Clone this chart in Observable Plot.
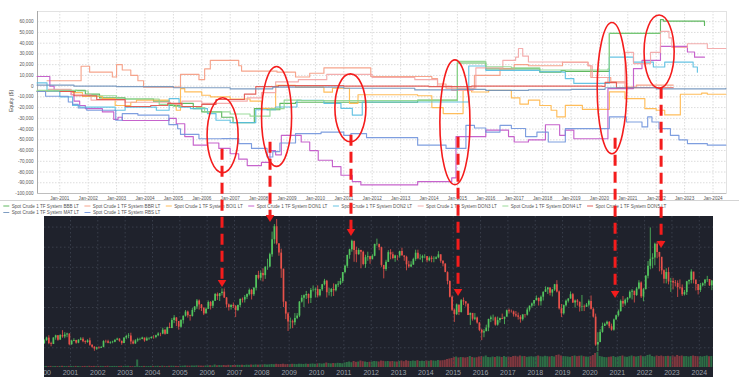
<!DOCTYPE html>
<html><head><meta charset="utf-8">
<script src="https://cdn.jsdelivr.net/npm/d3@7"></script>
<script src="https://cdn.jsdelivr.net/npm/@observablehq/plot@0.6"></script>
<style>
html,body{margin:0;padding:0;background:#fff;}
#wrap{position:relative;width:739px;height:387px;overflow:hidden;font-family:"Liberation Sans",Arial,sans-serif;}
#wrap svg{position:absolute;}
#dark{position:absolute;left:44px;top:216px;width:669px;height:161px;background:#1f222c;}
</style></head><body><div id="wrap"><div id="dark"></div></div>
<script>
// ---------- Top chart: equity curves (values in thousands of $) ----------
const seriesNames = ["Spot Crude 1 TF System BBB LT","Spot Crude 1 TF System BBR LT","Spot Crude 1 TF System BOI1 LT","Spot Crude 1 TF System DON1 LT","Spot Crude 1 TF System DON2 LT","Spot Crude 1 TF System DON3 LT","Spot Crude 1 TF System DON4 LT","Spot Crude 1 TF System DON5 LT","Spot Crude 1 TF System MAT LT","Spot Crude 1 TF System RBS LT"];
const seriesColors = ["#4fb04f","#f59a80","#ffb648","#c052c6","#55bde0","#f3a5a5","#8fd68f","#e0514a","#6f92bb","#7094dc"];
const bbb = [[2000.2,-5],[2001.55,-4],[2001.9,-7.5],[2002.4,-11],[2003.3,-12],[2004.3,-14],[2004.85,-18],[2005.25,-16],[2005.7,-21],[2006.0,-24],[2006.7,-29],[2007.1,-34],[2007.85,-21],[2008.3,-22],[2008.75,-16],[2009.3,-15],[2013.6,-13],[2015.0,21.5],[2016.0,16],[2017.9,13],[2018.65,14.5],[2018.8,13.8],[2020.35,49],[2022.15,62],[2022.25,60.5],[2023.7,56.5]];
const bbr = [[2000.55,5],[2001.55,5],[2001.75,18.5],[2002.05,13],[2002.85,8.5],[2003.0,20],[2003.2,15],[2003.5,10],[2003.75,5],[2003.95,-1],[2005.25,11],[2005.9,6],[2006.1,16],[2006.3,24],[2007.3,19],[2007.4,14],[2008.65,13],[2009.3,8.5],[2009.8,12],[2010.3,17],[2011.95,9],[2014.1,7],[2014.3,2],[2014.6,-2],[2015.6,10],[2016.5,16],[2017.0,20],[2017.5,19],[2018.7,22.5],[2019.6,19],[2019.7,8],[2020.4,4],[2020.9,-1],[2021.3,1],[2022.6,1]];
const boi1 = [[2000.2,-5],[2001.45,-6],[2001.8,-9.5],[2002.5,-11.5],[2002.95,-18],[2003.5,-15],[2003.7,-13],[2004.85,-17],[2005.1,-22.5],[2005.25,-2.3],[2005.4,-5.4],[2006.0,-8.5],[2006.3,-10],[2007.0,-12],[2007.7,-14],[2008.1,-20.7],[2008.6,0.7],[2009.3,-1],[2010.3,-5.6],[2010.6,-2],[2011.2,-16],[2011.5,-8],[2013.6,-9],[2014.1,-20],[2014.5,-25.6],[2015.2,-4],[2015.5,-5.5],[2016.1,-4],[2016.9,-11],[2017.2,-16.7],[2017.5,-13],[2017.9,-18],[2018.3,-22.5],[2018.5,-28.7],[2018.8,-17.9],[2019.4,-21.6],[2020.35,-5.4],[2020.9,-11.7],[2021.6,-21],[2022.0,-22.5],[2022.3,-26.8],[2022.85,-7.6],[2023.6,-6.5],[2023.8,-7.6],[2024.45,-7.6]];
const don1 = [[2000.2,9],[2000.65,0],[2000.8,-4],[2001.4,-8],[2001.5,-14],[2001.7,-18],[2001.9,-21],[2002.5,-24],[2002.9,-31],[2003.05,-29],[2003.2,-32],[2004.4,-32],[2004.85,-30],[2005.1,-35],[2005.4,-47],[2005.7,-55],[2006.2,-53],[2006.6,-58],[2007.0,-63],[2007.3,-68],[2007.6,-74],[2008.1,-71],[2008.4,-60],[2008.6,-64],[2008.8,-45.8],[2009.5,-52],[2009.8,-60],[2010.1,-69],[2010.6,-75],[2010.9,-83],[2011.3,-89],[2011.6,-92],[2013.6,-89],[2014.8,-85.5],[2014.95,-47],[2016.0,-41],[2016.8,-47],[2017.0,-52],[2017.5,-50],[2018.1,-36],[2018.6,-45.8],[2018.8,-41],[2019.1,-49],[2020.3,-2.3],[2021.2,16.3],[2021.5,24],[2022.15,37],[2023.1,31.8],[2023.35,27],[2023.7,27]];
const don2 = [[2000.2,3],[2000.55,-4.6],[2001.0,-10],[2001.45,-18],[2001.7,-19.5],[2002.95,-22.5],[2003.3,-19.5],[2004.4,-22.5],[2004.85,-11.7],[2005.2,-19.5],[2005.6,-21],[2006.2,-25.6],[2006.5,-31.8],[2007.0,-34],[2007.9,-22],[2008.6,-19.4],[2009.35,-13.2],[2010.3,-16],[2010.9,-20.7],[2011.3,-27],[2011.65,-14.8],[2015.4,18.7],[2016.0,14.7],[2017.9,13.4],[2018.7,13.1],[2018.8,7],[2019.1,2.5],[2020.35,27],[2021.2,22.4],[2021.9,17.8],[2022.3,22.4],[2023.3,17.8],[2023.45,13]];
const don3 = [[2000.6,-3],[2001.4,-8],[2002.1,-13],[2003.3,-15],[2004.9,-17],[2005.3,-14],[2006.0,-16],[2007.0,-14],[2007.6,-11],[2008.1,-6],[2008.6,4],[2009.4,6],[2010.4,11],[2012.0,8],[2013.5,6],[2014.3,0],[2014.8,-4],[2015.55,-2],[2015.65,17],[2016.6,24],[2017.05,27],[2017.15,35],[2017.3,28],[2017.5,22.5],[2018.7,22],[2019.6,19],[2019.75,8],[2020.3,3],[2020.9,31.5],[2021.2,21],[2021.8,31.5],[2022.15,51],[2022.45,45],[2022.55,36],[2023.1,39.5],[2023.8,35],[2024.45,35]];
const don4 = [[2000.2,-4],[2001.6,-4.5],[2002.0,-9],[2003.0,-12],[2004.5,-17],[2005.0,-19],[2005.8,-20],[2006.1,-24],[2007.0,-26],[2007.7,-28],[2008.4,-21],[2008.9,-13],[2009.5,-13.5],[2014.97,-13],[2015.0,23],[2016.0,18],[2016.9,17],[2017.9,15],[2018.7,15],[2020.3,16],[2020.35,49.5],[2022.15,49.5]];
const don5 = [[2001.0,-5],[2001.5,-9],[2002.3,-12.5],[2003.3,-19],[2004.2,-18],[2004.8,-16],[2005.3,-19],[2006.0,-17],[2006.5,-12.5],[2007.5,-7.5],[2007.9,-0.5],[2008.7,0.5],[2011.0,0],[2014.0,-0.5],[2015.5,0],[2020.1,-0.2],[2020.2,3.5],[2020.6,-1.5],[2022.6,-1.5]];
const mat = [[2000.2,1],[2001.5,0],[2003.0,-0.5],[2005.0,-1.5],[2007.0,-2.5],[2008.5,-1],[2011.0,-2],[2013.5,-3.5],[2015.0,-3],[2016.0,-4],[2017.5,-3.5],[2019.0,-3],[2020.2,-1.5],[2022.0,-2.5],[2024.45,-2]];
const rbs = [[2000.2,-5],[2000.5,-9.4],[2001.3,-14.8],[2001.45,-17],[2001.65,-20.4],[2001.95,-22.5],[2002.97,-31.8],[2003.2,-25.6],[2003.75,-27],[2004.84,-35.9],[2005.15,-39.7],[2005.25,-45],[2005.9,-49],[2006.7,-48.9],[2007.3,-53.5],[2007.75,-58],[2008.3,-66],[2008.5,-61],[2008.75,-53],[2009.3,-44.2],[2010.2,-42.8],[2011.0,-45.8],[2011.25,-44.2],[2011.8,-48],[2013.6,-55],[2014.6,-58],[2015.3,-36.5],[2015.6,-39],[2016.0,-42.8],[2016.5,-36.5],[2016.9,-39.5],[2017.4,-47],[2017.8,-42.8],[2018.2,-52],[2018.8,-39.6],[2020.35,-28.7],[2020.95,-33.4],[2021.5,-38],[2021.7,-28.7],[2021.85,-33.4],[2022.1,-39.6],[2022.5,-45.8],[2022.8,-50],[2023.1,-53.5],[2023.8,-55],[2024.45,-55]];
const seriesSteps = [bbb,bbr,boi1,don1,don2,don3,don4,don5,mat,rbs];
const topTickYears = [2001,2002,2003,2004,2005,2006,2007,2008,2009,2010,2011,2012,2013,2014,2015,2016,2017,2018,2019,2020,2021,2022,2023,2024];
const topTickK = [-100,-90,-80,-70,-60,-50,-40,-30,-20,-10,0,10,20,30,40,50,60];

// ---------- Annotations ----------
const ellYear = [2006.75,2008.65,2011.25,2014.93,2020.46,2022.12];
const ellK = [-46.2,-28.7,-20.7,-34.1,-2.3,31.7];
const ellRYear = [0.546,0.53,0.546,0.53,0.52,0.53];
const ellRK = [34.9,46.5,31.6,58.1,61.1,34.1];
const arrowYear = [2006.73,2008.42,2011.27,2015.04,2020.57,2022.19];
const arrowFromK = [-58.8,-52.3,-45.8,-47.6,-48.6,-2];
const arrowToPrice = [80,144.5,130.6,71,69,118.7];

// ---------- Bottom chart: monthly Brent candles ----------
const priceYears = [2000,2001,2002,2003,2004,2005,2006,2007,2008,2009,2010,2011,2012,2013,2014,2015,2016,2017,2018,2019,2020,2021,2022,2023,2024];
const priceGrid = [20,40,60,80,100,120,140];
const firstOpen = 24.0;
const closes = [
[27.1,29.6,24.1,23.3,29.7,31.9,27.6,32.2,30.8,32.7,33.6,23.0],
[26.6,27.2,24.6,27.5,28.6,26.1,25.2,26.9,22.5,20.6,18.7,20.0],
[19.5,20.4,26.2,26.0,24.5,25.2,25.6,27.6,28.6,26.5,24.3,29.7],
[31.2,31.7,25.8,23.8,26.9,28.1,28.3,29.7,26.8,28.9,29.2,30.2],
[30.1,32.0,33.7,33.6,37.5,33.4,40.0,39.2,47.0,49.6,46.1,40.5],
[47.0,51.4,55.5,51.8,51.1,57.1,60.5,66.5,62.6,59.0,53.6,58.2],
[65.0,61.2,66.3,72.9,70.9,73.9,75.3,69.5,62.6,60.0,62.2,60.9],
[57.1,62.0,68.1,67.5,70.2,72.9,77.1,72.7,79.2,91.9,89.1,93.9],
[91.7,100.1,100.3,112.6,127.4,140.3,123.3,114.1,98.2,65.3,53.5,45.6],
[45.9,44.8,49.2,51.5,65.4,69.3,71.7,73.0,69.1,77.0,77.3,77.9],
[71.6,77.6,82.7,86.2,74.7,75.0,78.0,76.7,82.3,83.2,85.9,94.8],
[101.0,111.8,117.4,125.9,116.7,112.5,116.7,114.9,102.8,109.6,110.5,107.4],
[111.0,122.7,122.9,119.5,101.9,97.8,104.9,114.6,112.4,108.7,111.2,111.1],
[115.6,111.4,110.0,102.4,100.4,102.2,107.7,114.0,108.4,108.8,110.8,110.8],
[106.4,109.1,107.8,108.1,109.4,112.4,106.0,103.2,94.7,85.9,70.2,57.3],
[52.9,62.6,55.1,66.8,65.6,63.6,52.2,54.2,48.4,49.6,44.6,37.3],
[34.7,35.9,39.6,48.1,49.7,49.7,42.5,47.0,49.1,48.3,50.5,56.8],
[55.7,55.6,52.8,51.7,50.3,47.9,52.7,52.4,57.5,61.4,63.6,66.9],
[69.1,65.8,70.3,75.2,77.6,79.4,74.3,77.4,82.7,75.5,58.7,53.8],
[61.9,66.3,68.4,72.8,64.5,66.6,65.2,60.4,60.8,60.2,62.4,66.0],
[58.2,50.5,22.7,25.3,35.3,41.2,43.3,45.3,40.9,37.5,47.6,51.8],
[55.9,66.1,63.5,67.3,69.3,75.1,76.3,72.0,78.5,84.4,70.6,77.8],
[91.2,101.0,107.9,109.3,122.8,114.8,110.0,96.5,88.0,94.8,85.4,85.9],
[84.5,83.9,79.8,79.5,72.7,74.9,85.6,86.9,95.3,87.4,82.8,77.0],
[81.7,83.6,87.5,87.9,81.6,86.4]];
const highs = [
[28.0,30.5,32.0,25.5,30.0,32.5,32.0,33.0,37.0,35.0,34.5,34.0],
[27.5,29.0,27.5,28.0,30.0,30.0,27.0,28.0,29.5,23.0,21.0,20.5],
[21.0,21.0,27.0,27.5,27.5,26.0,26.5,27.8,29.5,29.0,26.5,29.8],
[32.5,34.0,34.5,27.5,28.0,29.5,29.5,30.5,29.5,30.5,30.0,31.0],
[32.0,32.5,35.0,34.5,39.5,38.0,40.5,44.5,49.0,52.0,50.0,43.0],
[48.0,51.5,57.0,56.5,52.5,59.0,61.0,68.0,67.5,63.0,60.0,59.5],
[66.5,66.0,66.5,74.0,74.5,71.5,78.5,78.5,70.0,63.5,62.5,64.5],
[62.0,62.5,68.5,69.5,72.0,73.5,78.5,78.0,80.0,92.0,96.0,96.5],
[98.5,100.5,108.0,114.0,135.0,142.5,147.5,123.0,118.0,98.0,66.0,55.0],
[49.5,47.5,54.0,54.0,66.0,72.0,72.5,76.0,73.5,79.0,81.5,79.5],
[81.5,78.0,83.0,88.0,87.0,79.0,79.0,83.5,83.0,86.0,89.0,94.8],
[102.0,112.0,118.0,127.0,124.0,120.0,118.5,117.0,116.0,112.0,115.0,111.0],
[112.5,123.0,128.0,121.5,120.0,100.0,107.0,116.5,117.5,115.0,112.0,111.5],
[116.0,119.0,111.0,111.0,106.0,105.5,109.0,117.0,117.0,112.5,112.0,112.5],
[109.5,110.5,111.0,110.5,110.5,115.5,112.5,106.5,103.5,95.5,86.5,71.5],
[58.5,63.5,62.0,68.0,69.5,66.0,63.0,54.5,52.0,54.0,50.5,45.0],
[38.5,38.0,42.5,48.5,51.5,52.5,50.5,50.5,49.5,53.5,49.5,57.5],
[58.5,57.5,56.5,56.0,54.5,52.0,52.8,53.0,59.5,61.5,64.5,67.0],
[71.5,69.5,71.5,75.5,80.5,80.0,79.5,78.0,83.0,86.7,76.5,63.0],
[62.5,67.5,69.0,75.5,74.0,67.5,68.0,65.5,72.0,62.5,64.0,67.5],
[71.5,59.5,53.5,35.0,38.0,44.5,44.5,46.5,46.0,43.5,48.5,52.5],
[57.5,67.5,71.0,68.5,70.0,76.5,77.8,73.0,80.0,86.7,85.5,79.0],
[91.7,105.8,139.1,113.5,124.0,125.2,114.8,105.5,97.5,98.5,99.5,89.0],
[89.0,86.9,86.5,87.5,82.5,77.0,86.0,87.5,97.5,93.5,84.5,79.5],
[84.0,84.5,87.5,91.0,84.5,87.0]];
const lows = [
[23.5,26.5,23.0,21.0,23.5,27.5,26.5,27.5,29.5,29.0,30.0,22.0],
[22.5,26.0,23.5,24.0,27.0,25.0,23.5,24.5,21.5,19.5,16.5,17.5],
[18.5,19.5,20.0,24.5,24.0,23.5,24.0,25.0,27.0,25.5,22.5,24.0],
[28.0,29.0,23.0,23.0,23.5,25.5,27.0,28.0,25.5,26.5,27.5,28.5],
[28.5,29.0,31.0,31.0,33.0,32.5,33.5,39.0,39.0,44.0,41.0,37.5],
[39.5,43.5,50.5,49.5,46.5,50.5,55.0,58.0,57.5,56.0,52.0,54.0],
[58.5,57.5,59.0,66.0,67.0,66.0,71.5,69.0,59.5,56.5,57.5,59.0],
[50.0,56.0,60.0,64.5,64.5,68.0,71.5,67.5,71.0,76.5,87.5,86.5],
[85.5,88.0,97.0,99.5,110.0,123.0,122.0,111.0,89.0,60.0,48.0,36.2],
[38.5,39.0,42.0,48.0,50.0,64.5,60.0,68.0,63.5,64.0,75.5,69.5],
[69.5,70.5,76.0,81.5,69.5,71.5,70.5,71.0,75.5,80.0,82.0,84.0],
[93.5,99.0,108.0,115.0,105.0,104.5,112.0,98.5,101.5,99.0,106.0,103.0],
[108.5,110.5,121.0,116.5,100.0,88.5,96.0,105.0,107.5,107.5,105.0,106.5],
[109.0,111.0,106.0,96.5,99.0,99.5,102.0,106.0,107.5,107.0,104.5,108.5],
[104.5,105.5,104.5,104.5,107.5,108.5,104.0,100.5,95.5,82.5,69.5,56.0],
[45.2,52.0,52.0,54.5,62.0,60.5,52.0,42.2,46.5,47.0,43.5,36.0],
[27.1,30.0,36.5,36.0,45.0,46.5,41.5,41.5,44.5,48.0,43.0,50.5],
[53.5,54.5,50.5,50.0,47.5,44.5,46.5,49.5,51.5,55.5,59.5,61.0],
[66.5,61.5,61.5,66.5,75.0,73.0,71.5,70.5,76.0,74.5,57.5,50.0],
[52.5,60.5,64.5,68.5,64.0,59.5,61.5,55.5,56.0,56.0,60.5,60.5],
[57.5,49.5,21.5,16.0,25.0,34.5,41.5,42.0,39.0,36.5,36.5,47.5],
[50.5,55.5,60.0,61.5,64.5,68.5,67.5,64.5,71.0,77.5,69.0,65.7],
[77.5,88.5,97.5,98.5,101.5,108.5,95.5,92.5,83.5,83.5,82.5,75.0],
[77.5,80.5,70.0,77.5,71.0,71.5,72.0,82.5,83.5,83.5,76.5,72.5],
[75.0,80.5,81.0,85.0,81.0,76.8]];
const volumes = [
[0.8,1,0.9,1.1,0.8,1,0.9,1,1.2,1,0.9,1.1],
[1,0.9,1.1,1,0.8,1,1.1,0.9,1.2,1,1.1,0.9],
[1,1.1,0.9,1,1.2,0.9,1,1.1,1,0.9,1.2,1],
[1.1,1.2,1,0.9,1,7.5,1,1,1.1,0.9,1,1.1],
[1,1.1,1.2,1,1.3,1.1,1,1.2,1.3,1.2,1.1,1],
[1.2,1.3,1.5,1.4,1.3,1.5,1.4,1.6,1.5,1.4,1.3,1.5],
[1.6,1.8,1.5,2.5,1.7,1.9,1.8,2,1.7,2.2,1.9,2],
[2,2.2,2.1,2.3,2,2.4,2.2,2.5,2.3,2.6,2.4,2.5],
[2.6,2.8,2.5,2.7,3,2.8,3.2,2.9,3,3.3,2.8,3],
[3,3.2,3.1,2.9,3.3,3.2,3,3.4,3.1,3.3,3.5,3.2],
[3.5,3.8,3.4,3.7,4.5,3.9,3.6,4,3.8,4.2,4,3.7],
[4.5,5,5.5,4.8,6,5.2,5.5,6.5,5.8,5.5,5,5.3],
[5.5,6,5.8,5.5,6.5,6.2,5.8,6,5.7,6,5.6,5.5],
[6,6.5,5.8,6.8,6.2,6,6.5,6.2,6.8,6,6.3,6],
[6.5,6.2,6.8,6.5,6.3,7,6.6,6.8,7.2,8,8.5,9],
[10,10.5,9.5,10,9.8,9.5,10,11,10,9.5,9.8,10.5],
[11,10.5,11.5,10,9.8,10.5,10,10.8,10.5,10,11,10.2],
[10.5,10,11,11.2,10.5,11.5,10.8,11,10.2,10.5,10.8,10.4],
[11,11.5,10.8,10.5,11.2,10.8,10.5,11,10.5,12,12.5,11.5],
[11,10.8,10.5,10.2,11,11.5,10.8,11.2,11.5,10.8,10.5,10.4],
[11,12,14,15,11,10.5,10,9.8,10.2,10.5,11,10],
[10.5,11,11.5,10.5,10.2,10.8,11.5,10.8,10.5,11,11.5,10.8],
[11,12,12.5,11,10.5,11.5,11,11.5,10.8,11,11.2,10.8],
[11.5,10.5,12,11,11.5,10.8,11,10.5,11,11.5,11,10.8],
[11,10.5,11,11.5,10.8,11]];

// ---------- Build tables ----------
const equityRows = [];
seriesNames.forEach((name, i) => seriesSteps[i].forEach(([t, k]) => equityRows.push({series: name, t, v: k * 1000})));
const candles = [];
let prevClose = firstOpen;
priceYears.forEach((yr, yi) => closes[yi].forEach((c, m) => {
  candles.push({t: yr + (m + 0.5) / 12, t1: yr + m / 12, t2: yr + (m + 1) / 12, o: prevClose, c, h: highs[yi][m], l: lows[yi][m], vol: volumes[yi][m], dir: c >= prevClose ? "up" : "down"});
  prevClose = c;
}));

const wrap = document.getElementById("wrap");
const fmt = d => d3.format(",")(d).replace("\u2212", "-");

// ---------- Top chart ----------
const topChart = Plot.plot({
  width: 739, height: 205, marginLeft: 37, marginRight: 13, marginTop: 11, marginBottom: 12,
  style: {background: "transparent", fontFamily: "Liberation Sans, Arial, sans-serif", fontSize: "4.6px", color: "#555", overflow: "visible"},
  x: {domain: [2000.215, 2024.475], axis: null},
  y: {domain: [-100000, 69500], axis: null},
  color: {domain: seriesNames, range: seriesColors},
  marks: [
    Plot.gridX(topTickYears, {stroke: "#dcdcdc", strokeOpacity: 1, strokeDasharray: "1.5,1.5"}),
    Plot.gridY(topTickK.map(k => k * 1000), {stroke: "#dcdcdc", strokeOpacity: 1, strokeDasharray: "1.5,1.5"}),
    Plot.frame({stroke: "#e2e2e2"}),
    Plot.ruleX([2000.215], {stroke: "#9a9a9a", strokeWidth: 0.8}),
    Plot.ruleY([-100000], {stroke: "#b5b5b5", strokeWidth: 0.8}),
    Plot.line(equityRows, {x: "t", y: "v", z: "series", stroke: "series", curve: "step-after", strokeWidth: 1.15, strokeOpacity: 0.9}),
    Plot.axisX(topTickYears, {tickSize: 0, tickPadding: 3, tickFormat: d => "Jan-" + d, fontSize: 4.6, label: null}),
    Plot.axisY(topTickK.map(k => k * 1000), {tickSize: 0, tickPadding: 4, tickFormat: fmt, fontSize: 4.6, label: null})
  ]
});
topChart.style.left = "0px"; topChart.style.top = "0px";
wrap.appendChild(topChart);

// ---------- Volume chart ----------
const volChart = Plot.plot({
  width: 669, height: 16, marginTop: 0, marginBottom: 0, marginLeft: 0, marginRight: 0,
  style: {background: "transparent", overflow: "hidden"},
  x: {domain: [2000.05, 2024.52], axis: null},
  y: {domain: [0, 16], axis: null},
  color: {domain: ["up", "down"], range: ["#2f7548", "#8a3a40"]},
  marks: [Plot.rectY(candles, {x1: "t1", x2: "t2", y: "vol", fill: "dir", fillOpacity: 0.9, insetLeft: 0.15, insetRight: 0.15})]
});
volChart.style.left = "44px"; volChart.style.top = "351.4px";
wrap.appendChild(volChart);

// ---------- Candle chart ----------
const candleChart = Plot.plot({
  width: 669, height: 161, marginTop: 0, marginBottom: 9.6, marginLeft: 0, marginRight: 0,
  style: {background: "transparent", overflow: "hidden", fontFamily: "Liberation Sans, Arial, sans-serif", fontSize: "7px", color: "#9ea1aa"},
  x: {domain: [2000.05, 2024.52], axis: null},
  y: {domain: [0, 150.5], axis: null},
  color: {domain: ["up", "down"], range: ["#53c45e", "#e8514a"]},
  marks: [
    Plot.gridX(priceYears, {stroke: "#3a3f4c", strokeOpacity: 1, strokeDasharray: "1.5,2.5"}),
    Plot.gridY(priceGrid, {stroke: "#3a3f4c", strokeOpacity: 1, strokeDasharray: "1.5,2.5"}),
    Plot.ruleX(candles, {x: "t", y1: "l", y2: "h", stroke: "dir", strokeWidth: 0.8}),
    Plot.ruleX(candles, {x: "t", y1: "o", y2: "c", stroke: "dir", strokeWidth: 1.7}),
    Plot.axisX(priceYears, {tickSize: 0, tickPadding: 2, tickFormat: d => String(d), fontSize: 7, label: null})
  ]
});
candleChart.style.left = "44px"; candleChart.style.top = "216px";
wrap.appendChild(candleChart);

// ---------- Legend ----------
const leg = d3.select(wrap).append("svg").attr("width", 739).attr("height", 18).style("left", "0px").style("top", "199px");
leg.append("line").attr("x1", 0).attr("x2", 739).attr("y1", 1.5).attr("y2", 1.5).attr("stroke", "#c9c9c9").attr("stroke-width", 0.8);
const legendRows = [[0,1,2,3,4,5,6,7],[8,9]];
legendRows.forEach((row, ri) => {
  let x = 3.3;
  const y = ri === 0 ? 7 : 13.5;
  row.forEach(i => {
    leg.append("line").attr("x1", x).attr("x2", x + 6).attr("y1", y).attr("y2", y).attr("stroke", seriesColors[i]).attr("stroke-width", 0.9);
    const t = leg.append("text").attr("x", x + 8.4).attr("y", y).attr("dy", "0.35em")
      .attr("font-size", 4.6).attr("fill", "#555").attr("font-family", "Liberation Sans, Arial, sans-serif").text(seriesNames[i]);
    x += 8.4 + t.node().getComputedTextLength() + 5.5;
  });
});

// ---------- Overlay: ellipses, arrows, y label ----------
const ov = d3.select(wrap).append("svg").attr("width", 739).attr("height", 387).style("left", "0px").style("top", "0px");
const sx = topChart.scale("x"), sy = topChart.scale("y"), py = candleChart.scale("y");
ov.append("text").attr("transform", "translate(11,101) rotate(-90)").attr("text-anchor", "middle").attr("dy", "0.35em")
  .attr("font-size", 5.2).attr("fill", "#444").attr("font-family", "Liberation Sans, Arial, sans-serif").text("Equity ($)");
ellYear.forEach((yr, i) => {
  const cx = sx.apply(yr), cy = sy.apply(ellK[i] * 1000);
  const rx = sx.apply(yr + ellRYear[i]) - cx;
  const ry = sy.apply((ellK[i] - ellRK[i]) * 1000) - cy;
  ov.append("ellipse").attr("cx", cx).attr("cy", cy).attr("rx", rx).attr("ry", ry)
    .attr("fill", "none").attr("stroke", "#f41c1c").attr("stroke-width", 1.6);
});
arrowYear.forEach((yr, i) => {
  const x = sx.apply(yr);
  const y1 = sy.apply(arrowFromK[i] * 1000);
  const y2 = py.apply(arrowToPrice[i]) + 216;
  ov.append("line").attr("x1", x).attr("x2", x).attr("y1", y1).attr("y2", y2 - 6)
    .attr("stroke", "#f41c1c").attr("stroke-width", 3).attr("stroke-dasharray", "11,6");
  ov.append("path").attr("d", `M${x - 4.3},${y2 - 7}L${x + 4.3},${y2 - 7}L${x},${y2}Z`).attr("fill", "#f41c1c");
});
</script></body></html>
